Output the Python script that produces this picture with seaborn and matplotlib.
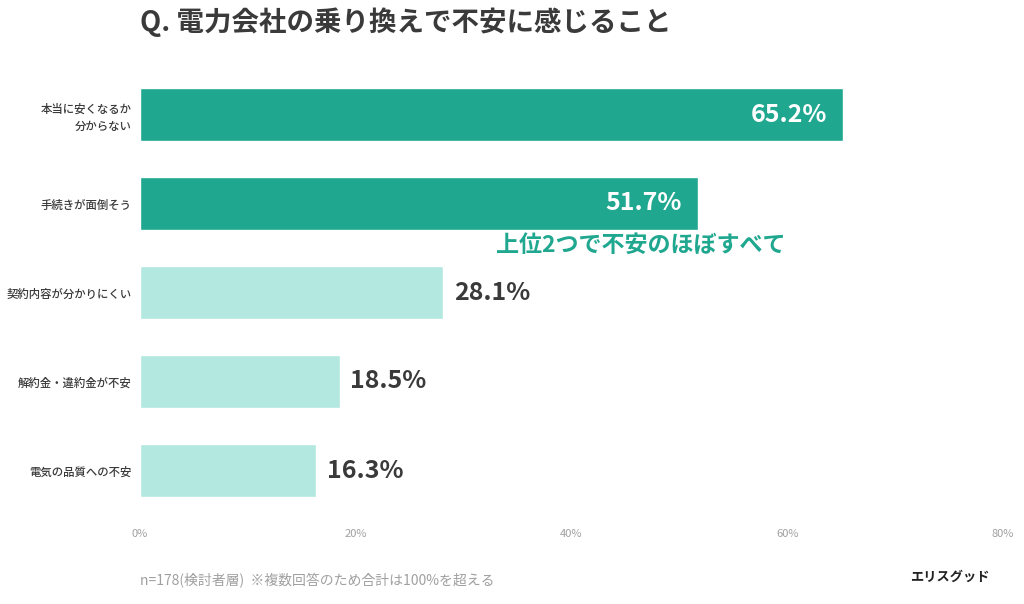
import pandas as pd
import matplotlib
matplotlib.use("Agg")
import matplotlib.pyplot as plt
import seaborn as sns

# data
categories = ["本当に安くなるか\n分からない", "手続きが面倒そう", "契約内容が分かりにくい",
              "解約金・違約金が不安", "電気の品質への不安"]
values = [65.2, 51.7, 28.1, 18.5, 16.3]
highlight = ["top", "top", "rest", "rest", "rest"]
xticks = [0, 20, 40, 60, 80]

dark = "#1fa78f"
light = "#b3e8e0"
text_col = "#3a3a3a"

sns.set_theme(style="white")
plt.rcParams['font.family'] = ['Noto Sans CJK JP', 'DejaVu Sans']

df = pd.DataFrame({"item": categories, "value": values, "group": highlight})

fig = plt.figure(figsize=(10.24, 6.04), dpi=100)
ax = fig.add_axes([140 / 1024, 1 - 515 / 604, 863 / 1024, 445 / 604])

sns.barplot(data=df, x="value", y="item", hue="group", orient="h",
            palette={"top": dark, "rest": light}, width=0.6, dodge=False,
            saturation=1, legend=False, ax=ax)

ax.set_xlim(0, 80)
ax.set_ylim(4.5, -0.5)
ax.set_xticks(xticks)
ax.set_xticklabels([f"{t}%" for t in xticks], fontsize=8, color="#a0a0a0")
ax.tick_params(axis="x", length=0, pad=10)
ax.tick_params(axis="y", length=0, pad=6)
for lab in ax.get_yticklabels():
    lab.set_fontsize(8.2)
    lab.set_color(text_col)
    lab.set_fontweight("medium")
    lab.set_linespacing(1.4)
ax.set_xlabel("")
ax.set_ylabel("")
sns.despine(ax=ax, left=True, bottom=True)

# value labels
for i, (v, g) in enumerate(zip(values, highlight)):
    if g == "top":
        ax.text(v - 1.5, i, f"{v}%", ha="right", va="center", color="white",
                fontsize=18, fontweight="bold")
    else:
        ax.text(v + 1.0, i, f"{v}%", ha="left", va="center", color=text_col,
                fontsize=18, fontweight="bold")

ax.text(33.0, 1.47, "上位2つで不安のほぼすべて", ha="left", va="center", color=dark,
        fontsize=16.6, fontweight="bold")

fig.text(140 / 1024, 1 - 22 / 604, "Q. 電力会社の乗り換えで不安に感じること", ha="left",
         va="center", fontsize=19.8, fontweight="bold", color=text_col)
fig.text(140 / 1024, 1 - 581 / 604, "n=178(検討者層)  ※複数回答のため合計は100%を超える",
         ha="left", va="center", fontsize=10, color="#a0a0a0")
fig.text(990 / 1024, 1 - 577 / 604, "エリスグッド", ha="right", va="center",
         fontsize=9.5, fontweight="bold", color="#222222", style="italic")

fig.savefig("out.png", dpi=100, facecolor="white")
